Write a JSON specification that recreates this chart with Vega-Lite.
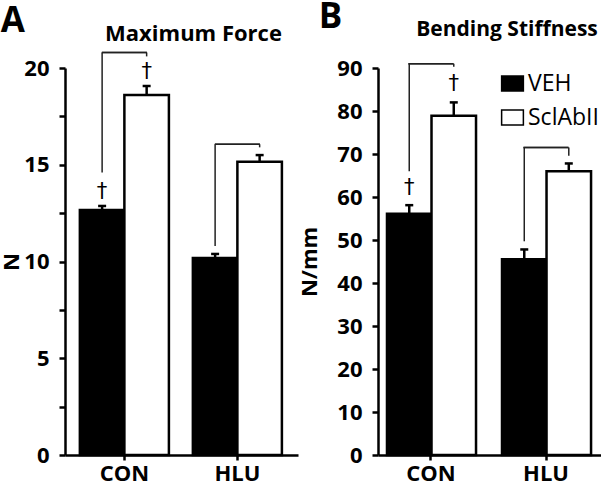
{
  "$schema": "https://vega.github.io/schema/vega-lite/v6.json",
  "padding": {"left": 0, "top": 0, "right": 0, "bottom": 0},
  "background": "white",
  "spacing": 0,
  "config": {
    "font": "Open Sans",
    "view": {"stroke": null},
    "axis": {
      "domainColor": "black", "domainWidth": 2.5, "tickColor": "black", "tickWidth": 2.5,
      "labelFont": "Open Sans", "labelFontWeight": "bold", "labelFontSize": 22, "labelColor": "black",
      "titleFont": "Open Sans", "titleFontWeight": "bold", "titleFontSize": 22, "titleColor": "black",
      "grid": false
    },
    "title": {"font": "Open Sans", "fontWeight": "bold", "color": "black"}
  },
  "datasets": {
    "force": [
      {"group": "CON", "treatment": "VEH", "mean": 12.66, "upper": 12.87, "legLow": 14.6, "bracketTop": 20.8, "daggerY": 13.6},
      {"group": "CON", "treatment": "SclAbII", "mean": 18.6, "upper": 19.07, "legLow": 20.6, "bracketTop": 20.8, "daggerY": 19.8},
      {"group": "HLU", "treatment": "VEH", "mean": 10.18, "upper": 10.39, "legLow": 10.8, "bracketTop": 16.06, "daggerY": null},
      {"group": "HLU", "treatment": "SclAbII", "mean": 15.16, "upper": 15.5, "legLow": 15.9, "bracketTop": 16.06, "daggerY": null}
    ],
    "stiffness": [
      {"group": "CON", "treatment": "VEH", "mean": 56.1, "upper": 58.1, "legLow": 66, "bracketTop": 91, "daggerY": 62.2},
      {"group": "CON", "treatment": "SclAbII", "mean": 78.9, "upper": 82, "legLow": 90.3, "bracketTop": 91, "daggerY": 86.3},
      {"group": "HLU", "treatment": "VEH", "mean": 45.5, "upper": 47.8, "legLow": 49.7, "bracketTop": 71.5, "daggerY": null},
      {"group": "HLU", "treatment": "SclAbII", "mean": 66, "upper": 67.8, "legLow": 69.6, "bracketTop": 71.5, "daggerY": null}
    ]
  },
  "resolve": {"legend": {"color": "independent"}, "scale": {"color": "independent"}},
  "hconcat": [
    {
      "title": {"text": "A", "anchor": "start", "frame": "bounds", "fontSize": 35, "offset": -16},
      "vconcat": [
        {
          "title": {"text": "Maximum Force", "fontSize": 22, "dx": 12, "offset": 6},
          "width": 233, "height": 387,
          "data": {"name": "force"},
          "encoding": {
            "x": {"field": "group", "type": "nominal", "title": null,
              "scale": {"paddingInner": 0.212, "paddingOuter": 0.137, "align": 0.48},
              "axis": {"labelAngle": 0, "tickSize": 5, "labelPadding": 3}}
          },
          "layer": [
            {
              "mark": {"type": "bar", "stroke": "black", "strokeWidth": 2.5},
              "encoding": {
                "xOffset": {"field": "treatment", "type": "nominal", "scale": {"domain": ["VEH", "SclAbII"], "paddingInner": 0, "paddingOuter": 0}},
                "y": {"field": "mean", "type": "quantitative", "title": "N",
                  "scale": {"domain": [0, 20], "nice": false},
                  "axis": {"values": [0, 2.5, 5, 7.5, 10, 12.5, 15, 17.5, 20], "labelExpr": "datum.value % 5 === 0 ? datum.label : ''", "tickSize": 6, "labelPadding": 10, "titlePadding": 0}},
                "color": {"field": "treatment", "type": "nominal", "scale": {"domain": ["VEH", "SclAbII"], "range": ["black", "white"]}, "legend": null}
              }
            },
            {
              "mark": {"type": "rule", "strokeWidth": 2.5, "color": "black"},
              "encoding": {
                "xOffset": {"field": "treatment", "type": "nominal"},
                "y": {"field": "mean", "type": "quantitative"},
                "y2": {"field": "upper"}
              }
            },
            {
              "mark": {"type": "tick", "thickness": 2.5, "size": 8, "color": "black", "opacity": 1},
              "encoding": {
                "xOffset": {"field": "treatment", "type": "nominal"},
                "y": {"field": "upper", "type": "quantitative"}
              }
            },
            {
              "mark": {"type": "rule", "strokeWidth": 1.5, "color": "#222"},
              "encoding": {
                "xOffset": {"field": "treatment", "type": "nominal"},
                "y": {"field": "legLow", "type": "quantitative"},
                "y2": {"field": "bracketTop"}
              }
            },
            {
              "mark": {"type": "tick", "thickness": 1.5, "size": 45, "color": "#222", "opacity": 1},
              "encoding": {
                "y": {"field": "bracketTop", "type": "quantitative"}
              }
            },
            {
              "transform": [{"filter": "isValid(datum.daggerY)"}],
              "mark": {"type": "text", "font": "DejaVu Sans", "fontSize": 21, "baseline": "middle", "color": "black"},
              "encoding": {
                "xOffset": {"field": "treatment", "type": "nominal"},
                "y": {"field": "daggerY", "type": "quantitative"},
                "text": {"value": "†"}
              }
            }
          ]
        }
      ]
    },
    {
      "title": {"text": "B", "anchor": "start", "frame": "bounds", "fontSize": 35, "offset": -16, "dx": 20},
      "resolve": {"legend": {"color": "independent"}},
      "vconcat": [
        {
          "title": {"text": "Bending Stiffness", "fontSize": 21, "dx": 13, "offset": 17},
          "width": 232, "height": 387,
          "data": {"name": "stiffness"},
          "encoding": {
            "x": {"field": "group", "type": "nominal", "title": null,
              "scale": {"paddingInner": 0.235, "paddingOuter": 0.126, "align": 0.31},
              "axis": {"labelAngle": 0, "tickSize": 5, "labelPadding": 3}}
          },
          "layer": [
            {
              "mark": {"type": "bar", "stroke": "black", "strokeWidth": 2.5},
              "encoding": {
                "xOffset": {"field": "treatment", "type": "nominal", "scale": {"domain": ["VEH", "SclAbII"], "paddingInner": 0, "paddingOuter": 0}},
                "y": {"field": "mean", "type": "quantitative", "title": "N/mm",
                  "scale": {"domain": [0, 90], "nice": false},
                  "axis": {"values": [0, 5, 10, 15, 20, 25, 30, 35, 40, 45, 50, 55, 60, 65, 70, 75, 80, 85, 90], "labelExpr": "datum.value % 10 === 0 ? datum.label : ''", "tickSize": 6, "labelPadding": 10, "titlePadding": 15}},
                "color": {"field": "treatment", "type": "nominal", "title": null,
                  "scale": {"domain": ["VEH", "SclAbII"], "range": ["black", "white"]},
                  "legend": {"orient": "none", "legendX": 123, "legendY": 4, "title": null, "symbolType": "M-1.45,-1H1.45V1H-1.45Z", "symbolSize": 225,
                    "symbolStrokeColor": "black", "symbolStrokeWidth": 1.5, "labelFont": "Open Sans", "labelFontSize": 23,
                    "labelFontWeight": "normal", "labelColor": "black", "labelOffset": 4, "rowPadding": 10, "padding": 0, "labelLimit": 200}}
              }
            },
            {
              "mark": {"type": "rule", "strokeWidth": 2.5, "color": "black"},
              "encoding": {
                "xOffset": {"field": "treatment", "type": "nominal"},
                "y": {"field": "mean", "type": "quantitative"},
                "y2": {"field": "upper"}
              }
            },
            {
              "mark": {"type": "tick", "thickness": 2.5, "size": 8, "color": "black", "opacity": 1},
              "encoding": {
                "xOffset": {"field": "treatment", "type": "nominal"},
                "y": {"field": "upper", "type": "quantitative"}
              }
            },
            {
              "mark": {"type": "rule", "strokeWidth": 1.5, "color": "#222"},
              "encoding": {
                "xOffset": {"field": "treatment", "type": "nominal"},
                "y": {"field": "legLow", "type": "quantitative"},
                "y2": {"field": "bracketTop"}
              }
            },
            {
              "mark": {"type": "tick", "thickness": 1.5, "size": 45, "color": "#222", "opacity": 1},
              "encoding": {
                "y": {"field": "bracketTop", "type": "quantitative"}
              }
            },
            {
              "transform": [{"filter": "isValid(datum.daggerY)"}],
              "mark": {"type": "text", "font": "DejaVu Sans", "fontSize": 21, "baseline": "middle", "color": "black"},
              "encoding": {
                "xOffset": {"field": "treatment", "type": "nominal"},
                "y": {"field": "daggerY", "type": "quantitative"},
                "text": {"value": "†"}
              }
            }
          ]
        }
      ]
    }
  ]
}
